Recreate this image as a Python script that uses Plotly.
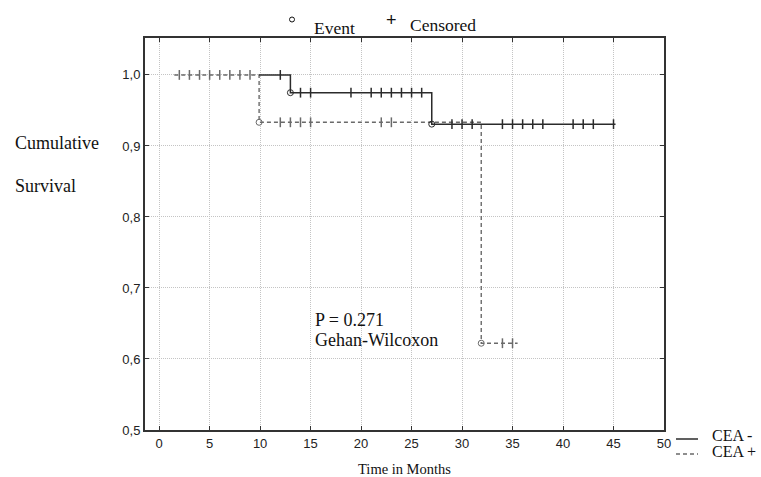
import plotly.graph_objects as go

# ---------------- data ----------------
# Kaplan-Meier step curves
cea_neg_step_x = [9.9, 13.0, 27.0, 45.2]
cea_neg_step_y = [1.0, 0.975, 0.9307, 0.9307]
cea_pos_step_x = [1.5, 9.9, 31.9, 35.5]
cea_pos_step_y = [1.0, 0.9333, 0.6222, 0.6222]

# events (complete observations)
cea_neg_event_x = [13.0, 27.0]
cea_neg_event_y = [0.975, 0.9307]
cea_pos_event_x = [9.9, 31.9]
cea_pos_event_y = [0.9333, 0.6222]

# censored observations
cea_neg_cens_x = [12, 14, 15, 19, 21, 22, 23, 24, 25, 26,
                  29, 30, 31, 34, 35, 36, 37, 38, 41, 42, 43, 45]
cea_neg_cens_y = [1.0, 0.975, 0.975, 0.975, 0.975, 0.975, 0.975, 0.975, 0.975, 0.975,
                  0.9307, 0.9307, 0.9307, 0.9307, 0.9307, 0.9307, 0.9307, 0.9307,
                  0.9307, 0.9307, 0.9307, 0.9307]
cea_pos_cens_x = [2, 3, 4, 5, 6, 7, 8, 9, 12, 13, 14, 15, 22, 23, 34, 35]
cea_pos_cens_y = [1.0, 1.0, 1.0, 1.0, 1.0, 1.0, 1.0, 1.0,
                  0.9333, 0.9333, 0.9333, 0.9333, 0.9333, 0.9333,
                  0.6222, 0.6222]

x_tick_vals = [0, 5, 10, 15, 20, 25, 30, 35, 40, 45, 50]
x_tick_text = ["0", "5", "10", "15", "20", "25", "30", "35", "40", "45", "50"]
y_tick_vals = [0.5, 0.6, 0.7, 0.8, 0.9, 1.0]
y_tick_text = ["0,5", "0,6", "0,7", "0,8", "0,9", "1,0"]

# ---------------- layout helpers ----------------
W, H = 761, 477
ML, MT = 145, 38
PW, PH = 519, 392
MR, MB = W - ML - PW, H - MT - PH


def px(xp):
    """screen pixel x (reference) -> paper coordinate"""
    return (xp - ML) / PW


def py(yp):
    """screen pixel y (reference) -> paper coordinate"""
    return (MT + PH - yp) / PH


SERIF = "Liberation Serif, Times New Roman, serif"
SANS = "Liberation Sans, Arial, sans-serif"
DARK = "#2b2b2b"
GREY = "#6a6a6a"

fig = go.Figure()

# step lines
fig.add_trace(go.Scatter(x=cea_pos_step_x, y=cea_pos_step_y, mode="lines",
                         line=dict(shape="hv", color=GREY, width=1.4, dash="4px,3px"),
                         name="CEA +", showlegend=False, hoverinfo="skip"))
fig.add_trace(go.Scatter(x=cea_neg_step_x, y=cea_neg_step_y, mode="lines",
                         line=dict(shape="hv", color=DARK, width=1.5),
                         name="CEA -", showlegend=False, hoverinfo="skip"))

# censored marks
fig.add_trace(go.Scatter(x=cea_pos_cens_x, y=cea_pos_cens_y, mode="markers",
                         marker=dict(symbol="line-ns", size=7, color=GREY,
                                     line=dict(color=GREY, width=1.5)),
                         showlegend=False))
fig.add_trace(go.Scatter(x=cea_neg_cens_x, y=cea_neg_cens_y, mode="markers",
                         marker=dict(symbol="line-ns", size=7, color=DARK,
                                     line=dict(color=DARK, width=1.5)),
                         showlegend=False))

# events
fig.add_trace(go.Scatter(x=cea_pos_event_x, y=cea_pos_event_y, mode="markers",
                         marker=dict(symbol="circle-open", size=6, color=GREY,
                                     line=dict(color=GREY, width=1)),
                         showlegend=False))
fig.add_trace(go.Scatter(x=cea_neg_event_x, y=cea_neg_event_y, mode="markers",
                         marker=dict(symbol="circle-open", size=6, color=DARK,
                                     line=dict(color=DARK, width=1)),
                         showlegend=False))

axis_common = dict(
    showline=True, linecolor="#333333", linewidth=2, mirror="ticks",
    ticks="inside", ticklen=4, tickcolor="#333333", tickwidth=1,
    showgrid=True, gridcolor="#c4c4c4", griddash="1px,1px", gridwidth=1,
    zeroline=False, tickfont=dict(family=SANS, size=13, color="#222222"),
)

fig.update_xaxes(range=[-1.4, 50], tickmode="array", tickvals=x_tick_vals,
                 ticktext=x_tick_text, **axis_common)
fig.update_yaxes(range=[0.5, 1.052], tickmode="array", tickvals=y_tick_vals,
                 ticktext=y_tick_text, **axis_common)

annotations = [
    dict(text="Cumulative", x=px(13), y=py(143), xanchor="left", yanchor="middle",
         font=dict(family=SERIF, size=18, color="#111111")),
    dict(text="Survival", x=px(13), y=py(186), xanchor="left", yanchor="middle",
         font=dict(family=SERIF, size=18, color="#111111")),
    dict(text="P = 0.271", x=px(313), y=py(320), xanchor="left", yanchor="middle",
         font=dict(family=SERIF, size=18, color="#111111")),
    dict(text="Gehan-Wilcoxon", x=px(313), y=py(340), xanchor="left", yanchor="middle",
         font=dict(family=SERIF, size=18, color="#111111")),
    dict(text="Event", x=px(312), y=py(28), xanchor="left", yanchor="middle",
         font=dict(family=SERIF, size=17.5, color="#111111")),
    dict(text="Censored", x=px(408), y=py(25), xanchor="left", yanchor="middle",
         font=dict(family=SERIF, size=17.5, color="#111111")),
    dict(text="+", x=px(391), y=py(20), xanchor="center", yanchor="middle",
         font=dict(family=SANS, size=18, color="#111111")),
    dict(text="Time in Months", x=0.5, y=py(469), xanchor="center", yanchor="middle",
         font=dict(family=SERIF, size=14.5, color="#111111")),
    dict(text="CEA -", x=px(710), y=py(435), xanchor="left", yanchor="middle",
         font=dict(family=SERIF, size=16, color="#111111")),
    dict(text="CEA +", x=px(710), y=py(451), xanchor="left", yanchor="middle",
         font=dict(family=SERIF, size=16, color="#111111")),
]
for a in annotations:
    a.update(xref="paper", yref="paper", showarrow=False)

shapes = [
    dict(type="circle", xref="paper", yref="paper",
         x0=px(289.5), x1=px(294.5), y0=py(22), y1=py(17),
         line=dict(color="#111111", width=1)),
    dict(type="line", xref="paper", yref="paper",
         x0=px(676), x1=px(698), y0=py(439), y1=py(439),
         line=dict(color=DARK, width=1.5)),
    dict(type="line", xref="paper", yref="paper",
         x0=px(676), x1=px(698), y0=py(454), y1=py(454),
         line=dict(color=GREY, width=1.3, dash="4px,3px")),
]

fig.update_layout(
    width=W, height=H,
    margin=dict(l=ML, r=MR, t=MT, b=MB),
    paper_bgcolor="white", plot_bgcolor="white",
    showlegend=False,
    annotations=annotations, shapes=shapes,
)

# remove the default page margin so the figure fills the 761x477 window exactly
fig.write_html(
    "out.html",
    config={"displayModeBar": False},
    post_script="document.body.style.margin='0';document.body.style.overflow='hidden';",
)
